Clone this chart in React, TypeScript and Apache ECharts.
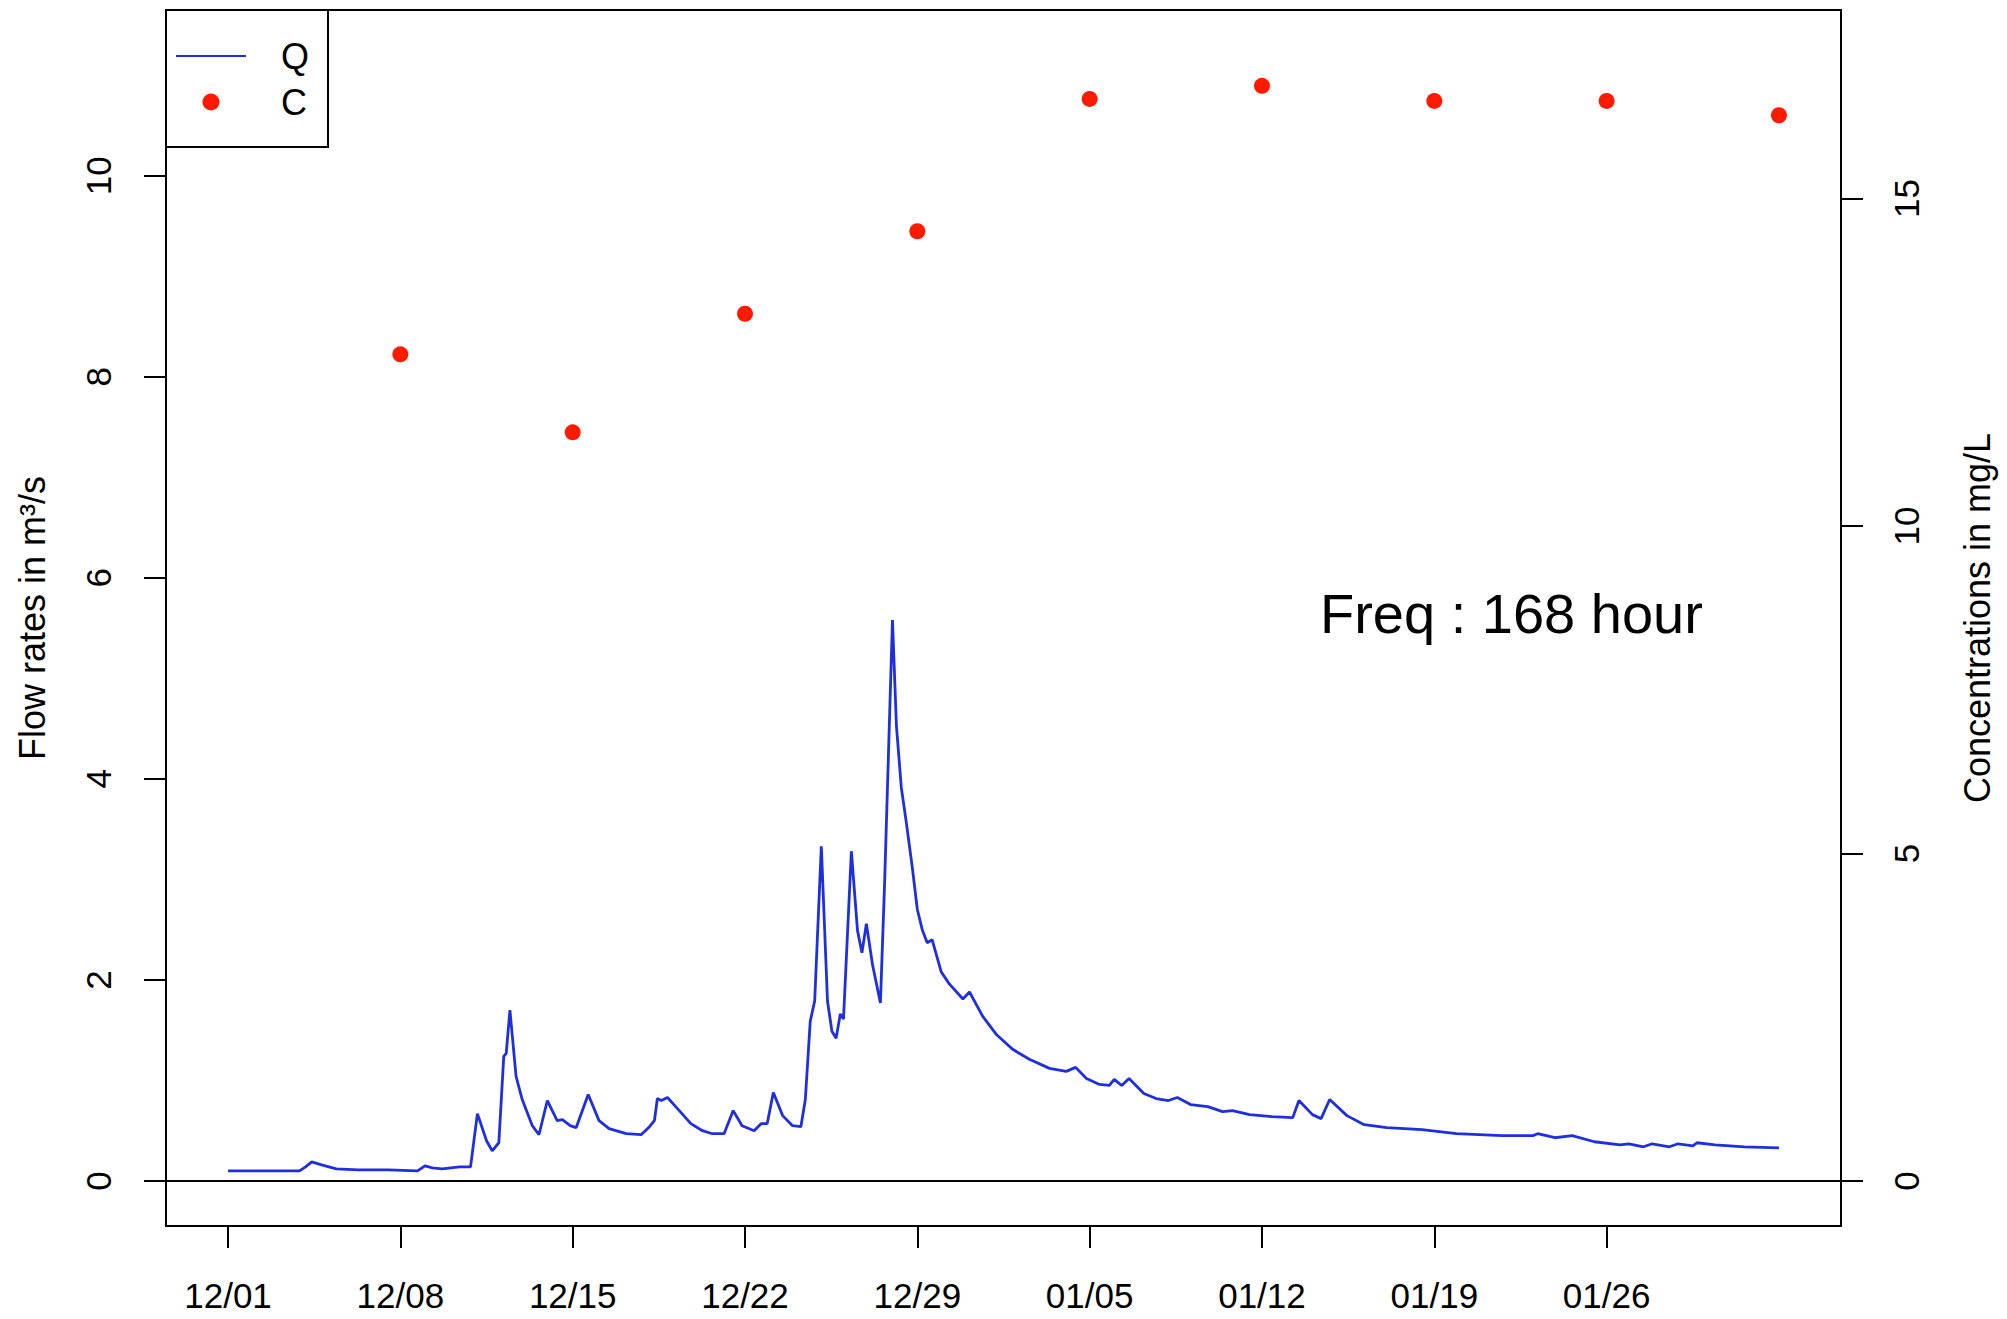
import React, { useEffect, useRef } from "react";
import * as echarts from "echarts";

// ---- data ----
// day offsets from 12/01 00:00
const tickDays = [0, 7, 14, 21, 28, 35, 42, 49, 56];
const tickLabels = ["12/01", "12/08", "12/15", "12/22", "12/29", "01/05", "01/12", "01/19", "01/26"];
const leftTicks = [0, 2, 4, 6, 8, 10];
const rightTicks = [0, 5, 10, 15];

const qDays = [
  0, 2.9, 3.15, 3.4, 3.8, 4.4, 5.3, 6.5, 7.7, 8.0, 8.3, 8.7, 9.4, 9.85, 10.13, 10.5, 10.73, 11.0, 11.2, 11.3,
  11.45, 11.7, 11.95, 12.36, 12.63, 12.97, 13.37, 13.58, 13.9, 14.14, 14.63, 15.07, 15.48, 16.17, 16.78, 17.12,
  17.32, 17.44, 17.6, 17.85, 18.33, 18.8, 19.27, 19.67, 20.15, 20.52, 20.88, 21.37, 21.65, 21.9, 22.15, 22.53,
  22.93, 23.27, 23.45, 23.65, 23.83, 24.1, 24.35, 24.53, 24.7, 24.87, 25.0, 25.32, 25.57, 25.75, 25.93, 26.18,
  26.5, 26.67, 26.99, 27.15, 27.35, 27.55, 27.8, 28.0, 28.2, 28.4, 28.6, 28.97, 29.3, 29.85, 30.12, 30.65, 31.2,
  31.87, 32.55, 33.37, 34.05, 34.43, 34.87, 35.4, 35.8, 36.0, 36.3, 36.6, 37.2, 37.7, 38.2, 38.56, 39.1, 39.8,
  40.4, 40.8, 41.5, 42.4, 43.25, 43.5, 44.05, 44.4, 44.75, 45.45, 46.15, 47.07, 48.5, 49.9, 51.75, 53.0, 53.2,
  53.9, 54.6, 55.5, 56.55, 56.9, 57.5, 57.85, 58.55, 58.9, 59.5, 59.67, 60.4, 61.6, 63.0,
];
const qValues = [
  0.10, 0.10, 0.14, 0.19, 0.16, 0.12, 0.11, 0.11, 0.10, 0.15, 0.13, 0.12, 0.14, 0.14, 0.67, 0.40, 0.30, 0.38, 1.24, 1.27,
  1.70, 1.04, 0.81, 0.55, 0.46, 0.80, 0.60, 0.61, 0.55, 0.53, 0.86, 0.60, 0.52, 0.47, 0.46, 0.54,
  0.60, 0.82, 0.80, 0.83, 0.70, 0.57, 0.50, 0.47, 0.47, 0.70, 0.55, 0.50, 0.57, 0.57, 0.88, 0.65,
  0.55, 0.54, 0.81, 1.59, 1.79, 3.33, 1.79, 1.49, 1.42, 1.66, 1.61, 3.28, 2.49, 2.27, 2.56, 2.15,
  1.77, 2.96, 5.58, 4.53, 3.91, 3.57, 3.11, 2.70, 2.50, 2.37, 2.40, 2.08, 1.96, 1.81, 1.88, 1.64, 1.46,
  1.31, 1.21, 1.12, 1.09, 1.13, 1.02, 0.96, 0.95, 1.01, 0.95, 1.02, 0.87, 0.82, 0.80, 0.83, 0.76, 0.74,
  0.69, 0.70, 0.66, 0.64, 0.63, 0.80, 0.66, 0.62, 0.81, 0.65, 0.56, 0.53, 0.51, 0.47, 0.45, 0.45, 0.47,
  0.43, 0.45, 0.39, 0.36, 0.37, 0.34, 0.37, 0.34, 0.37, 0.35, 0.38, 0.36, 0.34, 0.33,
];

const cDays = [7, 14, 21, 28, 35, 42, 49, 56, 63];
const cValues = [12.62, 11.43, 13.24, 14.5, 16.52, 16.72, 16.49, 16.49, 16.27];

const FONT = "Liberation Sans, Arial, Helvetica, sans-serif";
const BLUE = "#1f2fe0";
const RED = "#ff1a00";

export default function App() {
  const ref = useRef<HTMLDivElement>(null);

  useEffect(() => {
    if (!ref.current) return;
    const chart = echarts.init(ref.current, undefined, { renderer: "svg" });

    const qData = qDays.map((d, i) => [d, qValues[i]]);
    const cData = cDays.map((d, i) => [d, cValues[i]]);

    const tickStyle = { color: "#000", width: 2 };
    const labelBase = { fontSize: 35, fontFamily: FONT, color: "#000" };

    const option: any = {
      animation: false,
      backgroundColor: "#ffffff",
      grid: {
        left: 166,
        top: 10,
        width: 1675,
        height: 1216,
        show: true,
        borderColor: "#000",
        borderWidth: 2,
        backgroundColor: "transparent",
        containLabel: false,
      },
      legend: {
        left: 166,
        top: 10,
        orient: "vertical",
        data: [
          { name: "Q", itemStyle: { opacity: 0 } },
          { name: "C" },
        ],
        itemWidth: 70,
        itemHeight: 17,
        itemGap: 10,
        padding: [28, 19, 27, 9],
        borderColor: "#000",
        borderWidth: 2,
        backgroundColor: "#fff",
        textStyle: {
          fontSize: 36,
          fontFamily: FONT,
          color: "#000",
          lineHeight: 36,
          padding: [0, 0, 0, 30],
        },
      },
      xAxis: {
        type: "value",
        min: -2.52,
        max: 65.52,
        axisLine: { show: false, onZero: false },
        splitLine: { show: false },
        axisTick: {
          show: true,
          customValues: tickDays,
          length: 22,
          lineStyle: tickStyle,
        },
        axisLabel: {
          ...labelBase,
          customValues: tickDays,
          formatter: (v: number) => {
            const i = tickDays.indexOf(Math.round(v));
            return i >= 0 ? tickLabels[i] : "";
          },
          margin: 52,
        },
      },
      yAxis: [
        {
          type: "value",
          position: "left",
          min: -0.448,
          max: 11.648,
          name: "Flow rates in m³/s",
          nameLocation: "middle",
          nameRotate: 90,
          nameGap: 116,
          nameTextStyle: { fontSize: 36, fontFamily: FONT, color: "#000" },
          axisLine: { show: false, onZero: false },
          splitLine: { show: false },
          axisTick: {
            show: true,
            customValues: leftTicks,
            length: 22,
            lineStyle: tickStyle,
          },
          axisLabel: {
            ...labelBase,
            customValues: leftTicks,
            rotate: 90,
            margin: 50,
          },
        },
        {
          type: "value",
          position: "right",
          min: -0.6876,
          max: 17.8776,
          name: "Concentrations in mg/L",
          nameLocation: "middle",
          nameRotate: 90,
          nameGap: 118,
          nameTextStyle: { fontSize: 36, fontFamily: FONT, color: "#000" },
          axisLine: { show: false, onZero: false },
          splitLine: { show: false },
          axisTick: {
            show: true,
            customValues: rightTicks,
            length: 22,
            lineStyle: tickStyle,
          },
          axisLabel: {
            ...labelBase,
            customValues: rightTicks,
            rotate: 90,
            margin: 48,
          },
        },
      ],
      series: [
        {
          name: "Q",
          type: "line",
          yAxisIndex: 0,
          data: qData,
          showSymbol: false,
          symbol: "none",
          color: BLUE,
          lineStyle: { color: BLUE, width: 2.8 },
          markLine: {
            silent: true,
            symbol: ["none", "none"],
            label: { show: false },
            lineStyle: { color: "#000", width: 2, type: "solid" },
            data: [{ yAxis: 0 }],
          },
        },
        {
          name: "C",
          type: "scatter",
          yAxisIndex: 1,
          data: cData,
          symbol: "circle",
          symbolSize: 16,
          itemStyle: { color: RED, opacity: 1 },
        },
      ],
      graphic: [
        {
          type: "text",
          x: 1320,
          y: 613,
          style: {
            text: "Freq : 168 hour",
            fontSize: 56,
            fontFamily: FONT,
            fill: "#000",
            align: "left",
            verticalAlign: "middle",
          },
        },
      ],
    };

    chart.setOption(option);
    return () => chart.dispose();
  }, []);

  return (
    <div
      ref={ref}
      style={{ position: "fixed", left: 0, top: 0, width: 2007, height: 1319, background: "#fff" }}
    />
  );
}
